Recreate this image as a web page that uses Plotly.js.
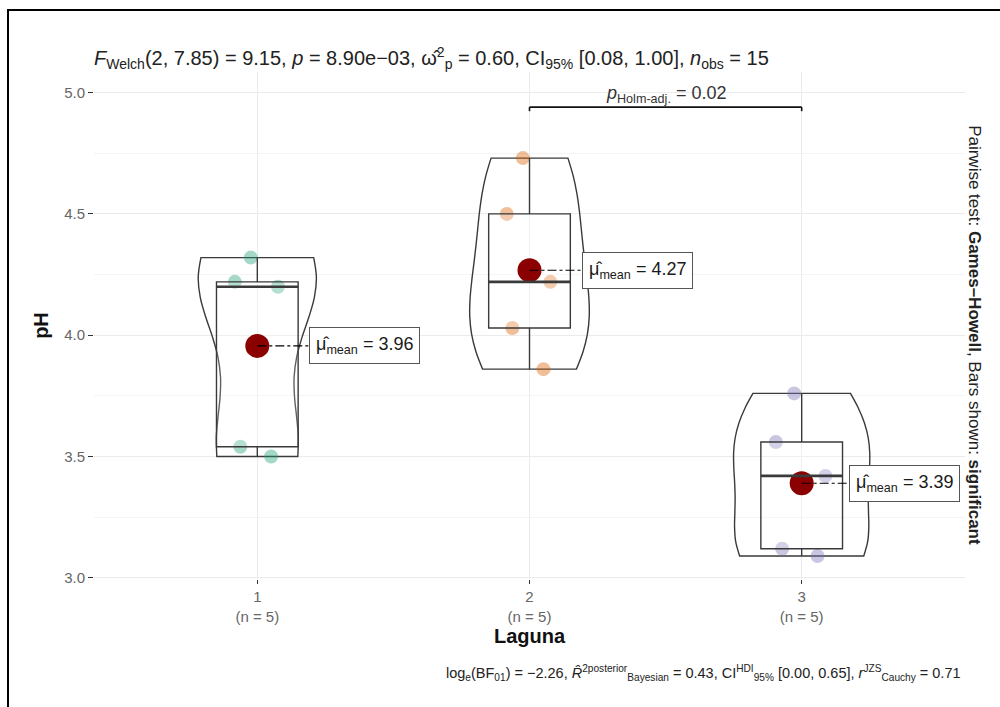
<!DOCTYPE html>
<html><head><meta charset="utf-8">
<script src="https://cdn.plot.ly/plotly-3.0.1.min.js"></script>
<style>
html,body{margin:0;padding:0;background:#fff;}
#wrap{position:relative;width:1000px;height:707px;overflow:hidden;}
#chart{width:1000px;height:707px;}
#frame{position:absolute;left:7px;top:9px;width:1010px;height:720px;border-top:2px solid #000;border-left:2px solid #000;pointer-events:none;}
</style>
</head><body>
<div id="wrap"><div id="chart"></div><div id="frame"></div></div>
<script>
// ---- data ----
const categories = ['1', '2', '3'];
const phLaguna1 = [4.32, 4.20, 4.22, 3.54, 3.50];
const phLaguna2 = [4.73, 4.50, 4.22, 4.03, 3.86];
const phLaguna3 = [3.76, 3.56, 3.42, 3.12, 3.09];
const groups = [phLaguna1, phLaguna2, phLaguna3];

const subtitleText = '<i>F</i><sub>Welch</sub>(2, 7.85) = 9.15, <i>p</i> = 8.90e\u221203, ' +
  '\u03C9\u0302<sup>2</sup><sub>p</sub> = 0.60, CI<sub>95%</sub> [0.08, 1.00], <i>n</i><sub>obs</sub> = 15';
const captionText = 'log<sub>e</sub>(BF<sub>01</sub>) = \u22122.26, <i>R\u0302</i><sup>2posterior</sup><sub>Bayesian</sub> = 0.43, ' +
  'CI<sup>HDI</sup><sub>95%</sub> [0.00, 0.65], <i>r</i><sup>JZS</sup><sub>Cauchy</sub> = 0.71';
const pairText = '<i>p</i><sub>Holm-adj.</sub> = 0.02';
const pairGroups = [2, 3];
const sideText = 'Pairwise test: <b>Games\u2013Howell</b>, Bars shown: <b>significant</b>';

// ---- styles ----
const pointColors = ['rgba(27,158,119,0.4)', 'rgba(217,95,2,0.4)', 'rgba(117,112,179,0.4)'];
const lineCol = '#3a3a3a';
const FONT = 'Liberation Sans, Arial, Helvetica, sans-serif';
const labelShift = [52, 52, 47];
const bracketY = 4.94;

// ---- helpers ----
const mean = v => v.reduce((a, b) => a + b, 0) / v.length;
function quant(v, p) { const s = [...v].sort((a, b) => a - b); const h = (s.length - 1) * p; const lo = Math.floor(h); return s[lo] + (h - lo) * ((s[Math.min(lo + 1, s.length - 1)]) - s[lo]); }
function sd(v) { const m = mean(v); return Math.sqrt(v.reduce((a, b) => a + (b - m) ** 2, 0) / (v.length - 1)); }
function bwNrd0(v) { const iqr = quant(v, 0.75) - quant(v, 0.25); return 0.9 * Math.min(sd(v), iqr / 1.34) * Math.pow(v.length, -0.2); }
function maxDens(v, bw) {
  const lo = Math.min(...v), hi = Math.max(...v); let best = 0;
  for (let i = 0; i < 512; i++) {
    const x = lo + (hi - lo) * i / 511; let d = 0;
    v.forEach(t => { d += Math.exp(-0.5 * ((x - t) / bw) ** 2); });
    d /= v.length * bw * Math.sqrt(2 * Math.PI); best = Math.max(best, d);
  }
  return best;
}
const bws = groups.map(bwNrd0);
const dmax = groups.map((g, i) => maxDens(g, bws[i]));
const gmax = Math.max(...dmax);

const traces = [];
const shapes = [];
const annotations = [];
groups.forEach((g, i) => {
  const xpos = i + 1;
  traces.push({
    type: 'violin', x: g.map(() => xpos), y: g, bandwidth: bws[i], spanmode: 'hard',
    width: 0.5 * dmax[i] / gmax, line: {color: lineCol, width: 1.4}, fillcolor: 'rgba(255,255,255,0)',
    points: 'all', pointpos: 0, jitter: 0.45,
    marker: {color: pointColors[i], size: 14, line: {width: 0}},
    box: {visible: false}, meanline: {visible: false}, hoverinfo: 'skip', showlegend: false
  });
  traces.push({
    type: 'box', x: g.map(() => xpos), y: g, width: 0.3, quartilemethod: 'inclusive',
    boxpoints: false, whiskerwidth: 0, line: {color: lineCol, width: 1.4},
    fillcolor: 'rgba(255,255,255,0.2)', hoverinfo: 'skip', showlegend: false
  });
  const med = quant(g, 0.5);
  shapes.push({type: 'line', xref: 'x', yref: 'y', x0: xpos - 0.15, x1: xpos + 0.15, y0: med, y1: med,
    line: {color: lineCol, width: 2.6}});
  const m = mean(g);
  shapes.push({type: 'line', xref: 'x', yref: 'y', xsizemode: 'pixel', xanchor: xpos, x0: 0, x1: labelShift[i],
    y0: m, y1: m, line: {color: '#000', width: 1.1, dash: 'dashdot'}, layer: 'above'});
  annotations.push({x: xpos, y: m, xref: 'x', yref: 'y', xanchor: 'left', yanchor: 'middle', xshift: labelShift[i],
    text: '\u03BC\u0302<sub>mean</sub> = ' + m.toFixed(2), showarrow: false,
    font: {family: FONT, size: 18, color: '#1a1a1a'}, bgcolor: '#fff', bordercolor: '#555', borderwidth: 1, borderpad: 6});
});
traces.push({
  type: 'scatter', mode: 'markers', x: groups.map((g, i) => i + 1), y: groups.map(mean),
  marker: {color: '#8B0000', size: 24}, hoverinfo: 'skip', showlegend: false
});

// significance bracket
const [ga, gb] = pairGroups;
shapes.push({type: 'line', xref: 'x', yref: 'y', x0: ga, x1: gb, y0: bracketY, y1: bracketY, line: {color: '#111', width: 1.6}});
[ga, gb].forEach(xx => shapes.push({type: 'line', xref: 'x', yref: 'y', ysizemode: 'pixel', yanchor: bracketY,
  x0: xx, x1: xx, y0: 0, y1: -4, line: {color: '#111', width: 1.6}}));
annotations.push({x: (ga + gb) / 2, y: bracketY, xref: 'x', yref: 'y', yanchor: 'bottom', yshift: -1, showarrow: false,
  text: pairText, font: {family: FONT, size: 18, color: '#333'}});

// titles / captions
annotations.push({xref: 'paper', yref: 'paper', x: 1, y: 0.481, xshift: 10, xanchor: 'center', yanchor: 'middle',
  textangle: 90, showarrow: false, text: sideText, font: {family: FONT, size: 17, color: '#222'}});
annotations.push({xref: 'paper', yref: 'paper', x: 1, y: 0, xanchor: 'right', yanchor: 'middle', yshift: -94, xshift: -2,
  showarrow: false, text: captionText, font: {family: FONT, size: 14.5, color: '#222'}});

const layout = {
  width: 1000, height: 707,
  margin: {l: 94, r: 35, t: 72, b: 128},
  paper_bgcolor: '#fff', plot_bgcolor: '#fff',
  font: {family: FONT},
  title: {text: subtitleText, x: 0, xanchor: 'left', xref: 'paper', y: 1 - 58 / 707, yanchor: 'middle',
    font: {family: FONT, size: 20, color: '#222'}},
  boxmode: 'overlay', violinmode: 'overlay',
  xaxis: {
    range: [0.4, 3.6], tickmode: 'array', tickvals: [1, 2, 3],
    ticktext: categories.map((c, i) => c + '<br>(n = ' + groups[i].length + ')'),
    tickfont: {family: FONT, size: 15, color: '#666'}, ticks: 'outside', ticklen: 4, tickcolor: '#333', tickwidth: 1,
    showgrid: true, gridcolor: '#EBEBEB', gridwidth: 1, zeroline: false, showline: false,
    title: {text: '<b>Laguna</b>', font: {family: FONT, size: 20, color: '#111'}, standoff: 3}
  },
  yaxis: {
    range: [2.995, 5.085], tickmode: 'array', tickvals: [3, 3.5, 4, 4.5, 5], ticktext: ['3.0', '3.5', '4.0', '4.5', '5.0'],
    tickfont: {family: FONT, size: 15, color: '#666'}, ticks: 'outside', ticklen: 5, tickcolor: '#333', tickwidth: 1,
    showgrid: true, gridcolor: '#EBEBEB', gridwidth: 1, zeroline: false, showline: false,
    minor: {tickmode: 'array', tickvals: [3.25, 3.75, 4.25, 4.75], showgrid: true, gridcolor: '#F4F4F4', gridwidth: 1, ticks: ''},
    title: {text: '<b>pH</b>', font: {family: FONT, size: 20, color: '#111'}, standoff: 10}
  },
  shapes: shapes,
  annotations: annotations
};
Plotly.newPlot('chart', traces, layout, {displayModeBar: false, staticPlot: true});
</script>
</body></html>
